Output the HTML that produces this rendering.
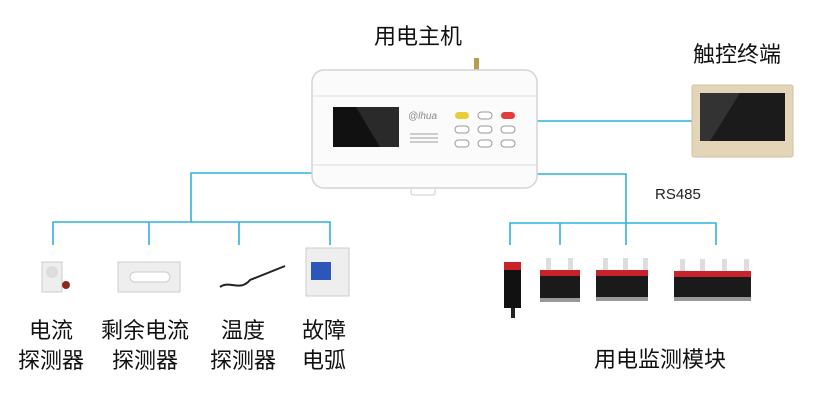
<!DOCTYPE html>
<html><head><meta charset="utf-8"><style>
body{margin:0;width:820px;height:401px;background:#fff;overflow:hidden;position:relative;font-family:"Liberation Sans","Noto Sans CJK SC",sans-serif}
.t{position:absolute;color:#111;font-size:22px;line-height:30px;text-align:center;white-space:nowrap}
.a{position:absolute}
</style></head><body>
<svg class="a" style="left:0;top:0" width="820" height="401">
<g stroke="#2fb4d9" stroke-width="1.6" fill="none">
<path d="M312 173H191V222M53 245V222H330V245M149 222V245M239 222V245"/>
<path d="M537 121H693"/>
<path d="M537 174H626V245M510 245V223H716V245M560 223V245"/>
</g>
<!-- host -->
<rect x="474" y="58" width="5" height="14" fill="#b89a50"/>
<rect x="411" y="183" width="24" height="12" rx="2" fill="#fff" stroke="#ccc"/>
<rect x="312" y="70" width="225" height="118" rx="12" fill="#fbfbfb" stroke="#d4d4d4" stroke-width="1.5"/>
<line x1="313" y1="96" x2="536" y2="96" stroke="#ddd"/>
<line x1="313" y1="165" x2="536" y2="165" stroke="#ddd"/>
<rect x="333" y="107" width="66" height="40" fill="#111"/>
<polygon points="356,107 399,107 399,147 380,147" fill="#2a2a2a"/>
<text x="408" y="119" font-size="10" font-style="italic" fill="#888" font-family="Liberation Sans">@lhua</text>
<g fill="#ccc"><rect x="410" y="133" width="28" height="2"/><rect x="410" y="137" width="28" height="2"/><rect x="410" y="141" width="28" height="2"/></g>
<rect x="455" y="112" width="14" height="7" rx="3.5" fill="#e8cf3a"/>
<rect x="478" y="112" width="14" height="7" rx="3.5" fill="#fff" stroke="#999"/>
<rect x="501" y="112" width="14" height="7" rx="3.5" fill="#e23c3c"/>
<g fill="#fff" stroke="#999"><rect x="455" y="126" width="14" height="7" rx="3.5"/><rect x="478" y="126" width="14" height="7" rx="3.5"/><rect x="501" y="126" width="14" height="7" rx="3.5"/><rect x="455" y="140" width="14" height="7" rx="3.5"/><rect x="478" y="140" width="14" height="7" rx="3.5"/><rect x="501" y="140" width="14" height="7" rx="3.5"/></g>
<!-- terminal -->
<rect x="692" y="85" width="101" height="72" rx="2" fill="#e2d5b8" stroke="#d0c29f"/>
<rect x="700" y="93" width="85" height="48" fill="#1b1b1b"/>
<polygon points="700,93 740,93 710,141 700,141" fill="#333"/>
<!-- sensors -->
<rect x="42" y="262" width="20" height="30" fill="#eee" stroke="#ccc"/><circle cx="52" cy="272" r="6" fill="#ddd"/><circle cx="66" cy="285" r="4" fill="#8b2a1a"/>
<rect x="118" y="262" width="62" height="30" fill="#eee" stroke="#ccc"/><rect x="130" y="272" width="40" height="10" rx="5" fill="#fff" stroke="#ccc"/>
<path d="M220 287C230 280 240 292 250 280L285 266" stroke="#222" stroke-width="2" fill="none"/>
<rect x="306" y="248" width="43" height="48" fill="#eee" stroke="#ccc"/><rect x="311" y="262" width="20" height="18" fill="#2c56b8"/>
<!-- modules -->
<rect x="504" y="262" width="17" height="46" fill="#111"/><rect x="504" y="262" width="17" height="8" fill="#c8232c"/><rect x="511" y="308" width="4" height="10" fill="#222"/>
<rect x="540" y="270" width="40" height="31" fill="#1a1a1a"/><rect x="540" y="270" width="40" height="6" fill="#c8232c"/><rect x="540" y="298" width="40" height="4" fill="#999"/>
<rect x="596" y="270" width="52" height="30" fill="#1a1a1a"/><rect x="596" y="270" width="52" height="6" fill="#c8232c"/><rect x="596" y="297" width="52" height="4" fill="#999"/>
<rect x="674" y="271" width="77" height="29" fill="#1a1a1a"/><rect x="674" y="271" width="77" height="6" fill="#c8232c"/><rect x="674" y="297" width="77" height="4" fill="#999"/>
<g fill="#ddd"><rect x="546" y="258" width="5" height="12"/><rect x="568" y="258" width="5" height="12"/><rect x="603" y="258" width="5" height="12"/><rect x="623" y="258" width="5" height="12"/><rect x="643" y="258" width="5" height="12"/><rect x="680" y="259" width="5" height="12"/><rect x="700" y="259" width="5" height="12"/><rect x="722" y="259" width="5" height="12"/><rect x="744" y="259" width="5" height="12"/></g>
<text x="655" y="199" font-size="15" fill="#222" font-family="Liberation Sans">RS485</text>
</svg>
<div class="t" style="left:374px;top:22px">用电主机</div>
<div class="t" style="left:693px;top:40px">触控终端</div>
<div class="t" style="left:18px;top:316px">电流<br>探测器</div>
<div class="t" style="left:101px;top:316px">剩余电流<br>探测器</div>
<div class="t" style="left:210px;top:316px">温度<br>探测器</div>
<div class="t" style="left:302px;top:316px">故障<br>电弧</div>
<div class="t" style="left:594px;top:345px">用电监测模块</div>
</body></html>
